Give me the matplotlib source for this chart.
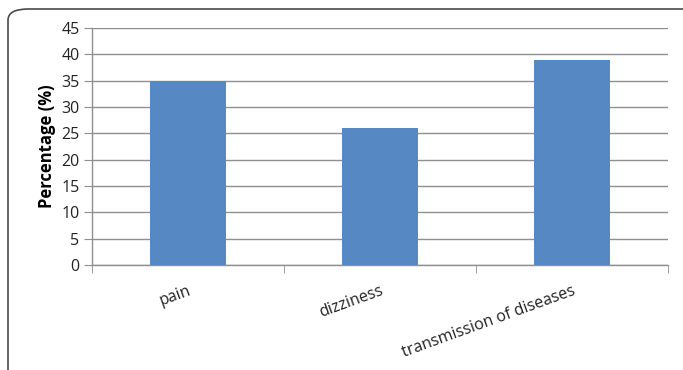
import matplotlib
matplotlib.use("Agg")
import matplotlib.pyplot as plt
from matplotlib.patches import FancyBboxPatch
import numpy as np

categories = ["pain", "dizziness", "transmission of diseases"]
values = [35, 26, 39]
yticks = [0, 5, 10, 15, 20, 25, 30, 35, 40, 45]
ylabel = "Percentage (%)"

W, H = 683, 370
fig = plt.figure(figsize=(W / 100, H / 100), dpi=100)
plt.rcParams['font.family'] = ['Open Sans', 'DejaVu Sans']

# outer rounded frame (cut off at right/bottom)
frame = FancyBboxPatch((8 / W, -0.1), 1.2, (1 - 9 / H) + 0.1,
                       boxstyle="round,pad=0,rounding_size=0.03",
                       transform=fig.transFigure, fill=False,
                       edgecolor="#4a4a4a", lw=1.2, clip_on=False)
fig.patches.append(frame)

ax = fig.add_axes([92 / W, 1 - 265 / H, (668 - 92) / W, (265 - 28) / H])
x = np.arange(len(categories))
ax.bar(x, values, width=0.4, color="#5689C3", zorder=3)
ax.set_xlim(-0.5, len(categories) - 0.5)
ax.set_ylim(0, 45)
ax.set_yticks(yticks)
ax.yaxis.grid(True, color="#8f8f8f", lw=1, zorder=0)
ax.set_axisbelow(True)
for s in ["top", "right"]:
    ax.spines[s].set_visible(False)
for s in ["left", "bottom"]:
    ax.spines[s].set_color("#8f8f8f")
    ax.spines[s].set_linewidth(1)
ax.tick_params(axis="y", length=6, color="#8f8f8f", labelsize=11.5, pad=3, labelcolor="#222222")

ax.set_xticks(x)
ax.set_xticklabels(categories, rotation=20, ha="right", rotation_mode="anchor",
                   fontsize=11.5, color="#222222")
ax.tick_params(axis="x", which="major", length=0, pad=13)
ax.set_xticks(np.arange(-0.5, len(categories)), minor=True)
ax.tick_params(axis="x", which="minor", length=6, color="#8f8f8f")

ax.set_ylabel(ylabel, fontsize=12, fontweight="bold", labelpad=4)

fig.savefig("out.png", dpi=100)
